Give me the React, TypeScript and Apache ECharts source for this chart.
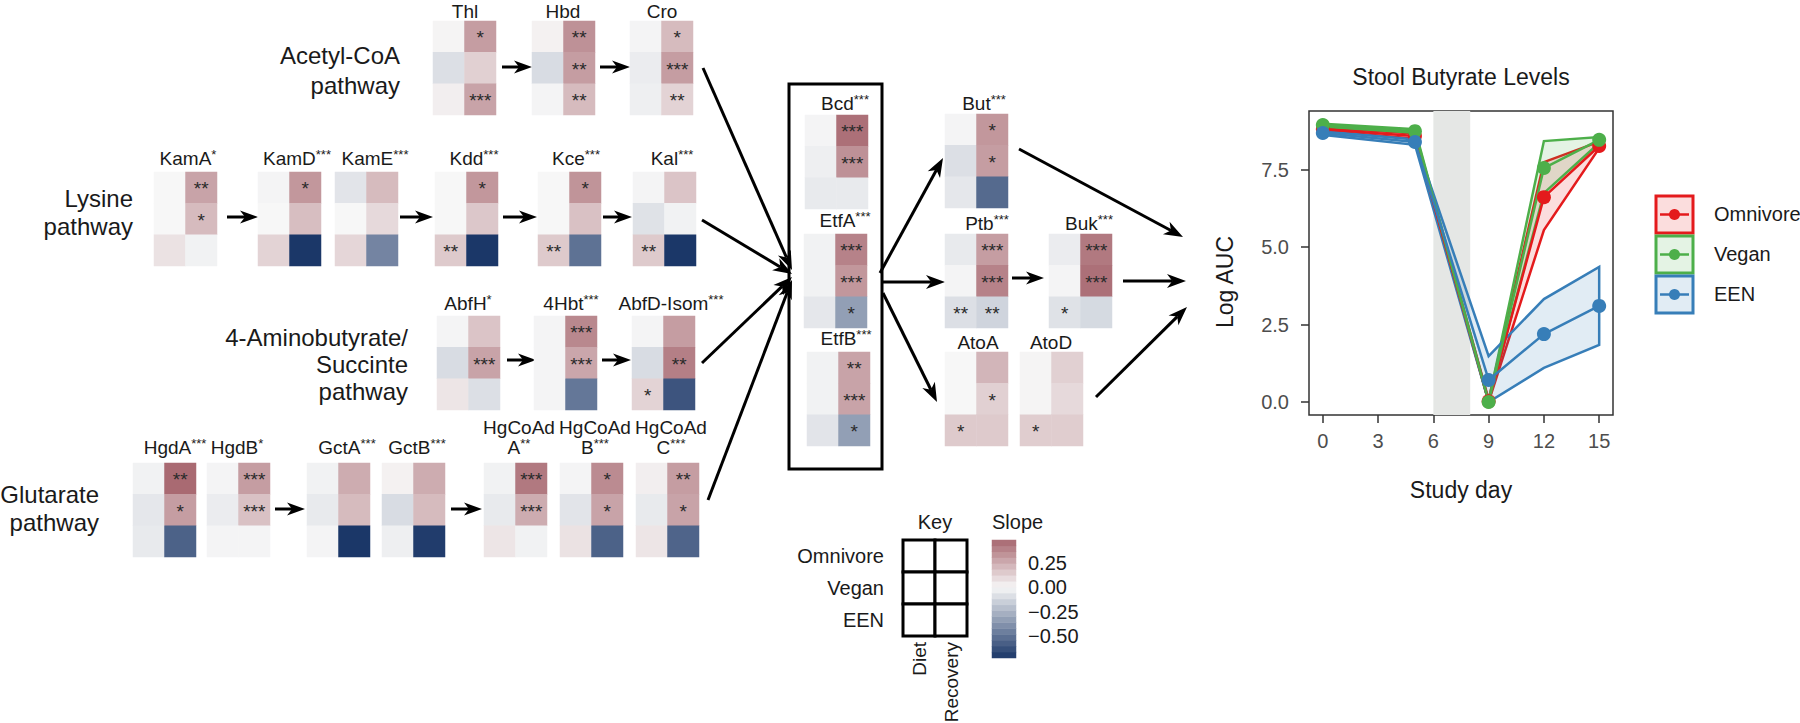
import React, { useEffect, useRef } from 'react';
import * as echarts from 'echarts';

const FONT = '"Liberation Sans", Arial, Helvetica, sans-serif';

// ---------- heatmap data ----------
const groups = ['Omnivore', 'Vegan', 'EEN'];
const phases = ['Diet', 'Recovery'];

const geneNames = ['Thl', 'Hbd', 'Cro', 'KamA', 'KamD', 'KamE', 'Kdd', 'Kce', 'Kal', 'AbfH', '4Hbt', 'AbfD-Isom',
  'HgdA', 'HgdB', 'GctA', 'GctB', 'HgCoAd\nA', 'HgCoAd\nB', 'HgCoAd\nC', 'Bcd', 'EtfA', 'EtfB', 'But', 'Ptb', 'Buk', 'AtoA', 'AtoD'];
const geneSig = ['', '', '', '*', '***', '***', '***', '***', '***', '*', '***', '***',
  '***', '*', '***', '***', '**', '***', '***', '***', '***', '***', '***', '***', '***', '', ''];

// [Omnivore, Vegan, EEN]
const dietSlope = [
  [0.01, -0.09, 0.03], [0.02, -0.1, -0.01], [-0.01, -0.04, -0.03],
  [0.0, 0.0, 0.07], [-0.01, 0.0, 0.12], [-0.07, 0.0, 0.11], [0.0, 0.0, 0.15], [0.0, 0.0, 0.15], [-0.01, -0.08, 0.15],
  [-0.01, -0.1, 0.06], [-0.01, -0.01, -0.01], [-0.01, -0.1, 0.12],
  [-0.02, -0.06, -0.05], [-0.01, -0.04, -0.01], [-0.02, -0.05, -0.01], [0.02, -0.1, -0.03], [-0.02, -0.05, 0.06], [-0.01, -0.07, 0.07], [0.03, -0.05, 0.06],
  [-0.01, -0.03, -0.05], [-0.02, -0.02, -0.06], [-0.02, -0.02, -0.07],
  [-0.01, -0.09, -0.06], [-0.05, -0.01, -0.09], [-0.04, -0.01, -0.08], [0.0, 0.0, 0.15], [0.01, 0.01, 0.14],
];
const recoverySlope = [
  [0.3, 0.13, 0.28], [0.34, 0.3, 0.2], [0.2, 0.3, 0.12],
  [0.28, 0.2, -0.02], [0.32, 0.19, -0.72], [0.2, 0.1, -0.43], [0.32, 0.16, -0.72], [0.33, 0.18, -0.5], [0.17, -0.02, -0.72],
  [0.17, 0.28, -0.09], [0.37, 0.27, -0.48], [0.3, 0.4, -0.61],
  [0.47, 0.3, -0.56], [0.3, 0.18, -0.01], [0.25, 0.2, -0.72], [0.25, 0.2, -0.7], [0.42, 0.25, -0.02], [0.36, 0.28, -0.56], [0.3, 0.28, -0.55],
  [0.45, 0.34, -0.05], [0.39, 0.32, -0.33], [0.28, 0.28, -0.33],
  [0.32, 0.3, -0.53], [0.3, 0.39, -0.13], [0.42, 0.45, -0.11], [0.22, 0.13, 0.15], [0.13, 0.1, 0.14],
];
const dietStars = [
  ['', '', ''], ['', '', ''], ['', '', ''],
  ['', '', ''], ['', '', ''], ['', '', ''], ['', '', '**'], ['', '', '**'], ['', '', '**'],
  ['', '', ''], ['', '', ''], ['', '', '*'],
  ['', '', ''], ['', '', ''], ['', '', ''], ['', '', ''], ['', '', ''], ['', '', ''], ['', '', ''],
  ['', '', ''], ['', '', ''], ['', '', ''],
  ['', '', ''], ['', '', '**'], ['', '', '*'], ['', '', '*'], ['', '', '*'],
];
const recoveryStars = [
  ['*', '', '***'], ['**', '**', '**'], ['*', '***', '**'],
  ['**', '*', ''], ['*', '', ''], ['', '', ''], ['*', '', ''], ['*', '', ''], ['', '', ''],
  ['', '***', ''], ['***', '***', ''], ['', '**', ''],
  ['**', '*', ''], ['***', '***', ''], ['', '', ''], ['', '', ''], ['***', '***', ''], ['*', '*', ''], ['**', '*', ''],
  ['***', '***', ''], ['***', '***', '*'], ['**', '***', '*'],
  ['*', '*', ''], ['***', '***', '**'], ['***', '***', ''], ['', '*', ''], ['', '', ''],
];

const colorbarSteps = [-0.69, -0.63, -0.57, -0.51, -0.45, -0.39, -0.33, -0.27, -0.21, -0.15, -0.09, -0.03,
  0.03, 0.09, 0.15, 0.21, 0.27, 0.33, 0.39, 0.45];
const colorbarTicks = [-0.5, -0.25, 0, 0.25];

// ---------- line chart data ----------
const studyDays = [0, 5, 9, 12, 15];
const dayTicks = [0, 3, 6, 9, 12, 15];
const aucTicks = [0, 2.5, 5, 7.5];
const omnivoreMean = [8.8, 8.58, 0.02, 6.61, 8.26];
const omnivoreLow = [8.75, 8.5, 0, 5.55, 8.19];
const omnivoreHigh = [8.85, 8.66, 0.08, 7.74, 8.4];
const veganMean = [8.94, 8.74, 0, 7.55, 8.46];
const veganLow = [8.89, 8.69, 0, 6.74, 8.36];
const veganHigh = [8.98, 8.8, 0.04, 8.42, 8.55];
const eenMean = [8.68, 8.39, 0.71, 2.19, 3.1];
const eenLow = [8.62, 8.3, 0, 1.1, 1.84];
const eenHigh = [8.74, 8.47, 1.48, 3.32, 4.36];

// ---------- layout ----------
const panelPos = [[433, 21], [532, 21], [630, 21], [154, 172], [258, 172], [335, 172], [435, 172], [538, 172], [633, 172],
  [437, 316], [534, 316], [632, 316], [133, 463], [207, 463], [307, 463], [382, 463], [484, 463], [560, 463], [636, 463],
  [805, 115], [804, 234], [807, 352], [945, 114], [945, 234], [1049, 234], [945, 352], [1020, 352]];
const labelPos = [[465, 11], [563, 11], [662, 11], [188, 158], [297, 158], [375, 158], [474, 158], [576, 158], [672, 158],
  [468, 303], [571, 303], [671, 303], [175, 447], [237, 447], [347, 447], [417, 447], [519, 437], [595, 437], [671, 437],
  [845, 103], [845, 220], [846, 338], [984, 103], [987, 223], [1089, 223], [978, 342], [1051, 342]];

const RED = '#E41A1C', GREEN = '#4DAF4A', BLUE = '#377EB8';

function arrow(x1: number, y1: number, x2: number, y2: number, lw = 3, hl = 18, hw = 6.5): any[] {
  const dx = x2 - x1, dy = y2 - y1, L = Math.hypot(dx, dy);
  const ux = dx / L, uy = dy / L, nx = -uy, ny = ux;
  const bx = x2 - ux * hl, by = y2 - uy * hl;
  const mx = x2 - ux * hl * 0.72, my = y2 - uy * hl * 0.72;
  return [
    { type: 'line', shape: { x1, y1, x2: mx, y2: my }, style: { stroke: '#000', lineWidth: lw } },
    { type: 'polygon', shape: { points: [[x2, y2], [bx + nx * hw, by + ny * hw], [mx, my], [bx - nx * hw, by - ny * hw]] }, style: { fill: '#000' } },
  ];
}

function txt(x: number, y: number, text: string, size: number, align = 'center', extra: any = {}, lineHeight?: number): any {
  const style: any = { text, fontSize: size, fontFamily: FONT, fill: '#1a1a1a', align, textAlign: align, verticalAlign: 'middle', textVerticalAlign: 'middle' };
  if (lineHeight) style.lineHeight = lineHeight;
  return { type: 'text', x, y, ...extra, style };
}

function geneLabel(i: number): any {
  const lines = geneNames[i].split('\n');
  const sup = geneSig[i] ? `{b|${geneSig[i]}}` : '';
  const text = lines.map((l, k) => `{a|${l}}${k === lines.length - 1 ? sup : ''}`).join('\n');
  return {
    type: 'text', x: labelPos[i][0], y: labelPos[i][1],
    style: {
      text, align: 'center', textAlign: 'center', verticalAlign: 'middle', textVerticalAlign: 'middle',
      rich: {
        a: { fontSize: 19, fontFamily: FONT, fill: '#1a1a1a', lineHeight: 20 },
        b: { fontSize: 13, fontFamily: FONT, fill: '#1a1a1a', verticalAlign: 'top' },
      },
    },
  };
}

function ribbon(low: number[], high: number[], color: string, fill: string, extra: any = {}): any {
  return {
    type: 'custom', xAxisIndex: 28, yAxisIndex: 30, silent: true,
    data: [[studyDays[0], low[0]]],
    renderItem: (_p: any, api: any) => {
      const pts: number[][] = [];
      studyDays.forEach((d, k) => pts.push(api.coord([d, high[k]])));
      for (let k = studyDays.length - 1; k >= 0; k--) pts.push(api.coord([studyDays[k], low[k]]));
      return { type: 'polygon', shape: { points: pts }, style: { fill, stroke: color, lineWidth: 2.5, lineJoin: 'miter' } };
    },
    ...extra,
  };
}

function meanLine(mean: number[], color: string, extra: any = {}): any {
  return {
    type: 'line', xAxisIndex: 28, yAxisIndex: 30, silent: true,
    data: studyDays.map((d, k) => [d, mean[k]]),
    symbol: 'circle', symbolSize: 14, showSymbol: true,
    lineStyle: { color, width: 2.5 }, itemStyle: { color },
    ...extra,
  };
}

export default function App() {
  const ref = useRef<HTMLDivElement>(null);
  useEffect(() => {
    if (!ref.current) return;
    const chart = echarts.init(ref.current, undefined, { renderer: 'svg' });
    const grids: any[] = [], xAxes: any[] = [], yAxes: any[] = [], series: any[] = [];
    geneNames.forEach((_g, i) => {
      grids.push({ left: panelPos[i][0], top: panelPos[i][1], width: 63, height: 94, show: false });
      xAxes.push({ type: 'category', gridIndex: i, data: phases, show: false });
      yAxes.push({ type: 'category', gridIndex: i, data: groups, inverse: true, show: false });
      const data: any[] = [];
      groups.forEach((_gr, r) => {
        data.push([0, r, dietSlope[i][r]]);
        data.push([1, r, recoverySlope[i][r]]);
      });
      series.push({
        type: 'heatmap', xAxisIndex: i, yAxisIndex: i, data, silent: true,
        emphasis: { disabled: true },
        label: {
          show: true, fontSize: 19, fontFamily: FONT, color: '#2a2a2a', offset: [0, 1],
          formatter: (p: any) => (p.value[0] === 0 ? dietStars[i][p.value[1]] : recoveryStars[i][p.value[1]]),
        },
      });
    });
    // colorbar (grid 27)
    grids.push({ left: 992, top: 540, width: 24, height: 118, show: false });
    xAxes.push({ type: 'category', gridIndex: 27, data: ['Slope'], show: false });
    yAxes.push({ type: 'category', gridIndex: 27, data: colorbarSteps.map(String), show: false });
    const fmt = (v: number) => (v < 0 ? '\u2212' : '') + Math.abs(v).toFixed(2);
    yAxes.push({
      type: 'value', gridIndex: 27, min: -0.72, max: 0.48, position: 'right',
      axisLine: { show: false }, splitLine: { show: false },
      axisTick: { show: true, inside: true, length: 5, customValues: colorbarTicks, lineStyle: { color: '#fff', width: 1.5 } },
      axisLabel: { show: true, customValues: colorbarTicks, formatter: fmt, fontSize: 20, fontFamily: FONT, color: '#1a1a1a', margin: 12 },
    });
    yAxes.push({
      type: 'value', gridIndex: 27, min: -0.72, max: 0.48, position: 'left',
      axisLine: { show: false }, splitLine: { show: false }, axisLabel: { show: false },
      axisTick: { show: true, inside: true, length: 5, customValues: colorbarTicks, lineStyle: { color: '#fff', width: 1.5 } },
    });
    series.push({
      type: 'heatmap', xAxisIndex: 27, yAxisIndex: 27, silent: true, emphasis: { disabled: true },
      data: colorbarSteps.map((v, k) => [0, k, v]),
    });
    const heatIdx = series.map((_s, k) => k);

    // line chart (grid 28)
    grids.push({ left: 1309, top: 111, width: 304, height: 304, show: true, borderColor: '#333', borderWidth: 1.5, backgroundColor: 'transparent' });
    xAxes.push({
      type: 'value', gridIndex: 28, min: -0.75, max: 15.75, position: 'bottom',
      axisLine: { show: false, onZero: false }, splitLine: { show: false },
      axisTick: { show: true, length: 8, customValues: dayTicks, lineStyle: { color: '#333', width: 1.5 } },
      axisLabel: { customValues: dayTicks, fontSize: 20, fontFamily: FONT, color: '#4d4d4d', margin: 16 },
    });
    yAxes.push({
      type: 'value', gridIndex: 28, min: -0.42, max: 9.39, position: 'left',
      axisLine: { show: false, onZero: false }, splitLine: { show: false },
      axisTick: { show: true, length: 8, customValues: aucTicks, lineStyle: { color: '#333', width: 1.5 } },
      axisLabel: { customValues: aucTicks, formatter: (v: number) => v.toFixed(1), fontSize: 20, fontFamily: FONT, color: '#4d4d4d', margin: 20 },
    });
    series.push(ribbon(omnivoreLow, omnivoreHigh, RED, 'rgba(228,26,28,0.15)', {
      markArea: { silent: true, itemStyle: { color: '#e5e7e5' }, data: [[{ xAxis: 6 }, { xAxis: 8 }]] },
    }));
    series.push(ribbon(veganLow, veganHigh, GREEN, 'rgba(77,175,74,0.15)'));
    series.push(ribbon(eenLow, eenHigh, BLUE, 'rgba(55,126,184,0.15)'));
    series.push(meanLine(omnivoreMean, RED));
    series.push(meanLine(veganMean, GREEN));
    series.push(meanLine(eenMean, BLUE));

    // ---------- graphics ----------
    const g: any[] = [];
    // pathway labels
    g.push(txt(400, 70, 'Acetyl-CoA\npathway', 24, 'right', {}, 30));
    g.push(txt(133, 212, 'Lysine\npathway', 24, 'right', {}, 28));
    g.push(txt(408, 364, '4-Aminobutyrate/\nSuccinte\npathway', 24, 'right', {}, 27));
    g.push(txt(99, 508, 'Glutarate\npathway', 24, 'right', {}, 28));
    geneNames.forEach((_n, i) => g.push(geneLabel(i)));

    // short arrows
    [[502, 67, 532, 67], [600, 67, 630, 67],
      [227, 217, 258, 217], [400, 217, 433, 217], [503, 217, 537, 217], [603, 217, 632, 217],
      [507, 360, 536, 360], [602, 360, 631, 360],
      [275, 509, 305, 509], [451, 509, 482, 509],
      [1012, 278, 1044, 278]].forEach((a) => g.push(...arrow(a[0], a[1], a[2], a[3], 3, 18, 6.5)));
    // converging arrows
    [[703, 68, 792, 270], [702, 220, 792, 274], [702, 363, 792, 277], [708, 500, 792, 280]].forEach((a) => g.push(...arrow(a[0], a[1], a[2], a[3], 3, 19, 7)));
    // diverging arrows
    [[880, 273, 943, 158], [883, 282, 945, 282], [883, 293, 937, 402]].forEach((a) => g.push(...arrow(a[0], a[1], a[2], a[3], 3, 19, 7)));
    // to Log AUC
    [[1019, 149, 1183, 237], [1123, 281, 1186, 281], [1096, 397, 1187, 307]].forEach((a) => g.push(...arrow(a[0], a[1], a[2], a[3], 3, 19, 7)));

    // central box
    g.push({ type: 'rect', shape: { x: 789, y: 84, width: 93, height: 385 }, style: { fill: 'none', stroke: '#000', lineWidth: 3 } });

    // key
    groups.forEach((_gr, r) => phases.forEach((_ph, c) => {
      g.push({ type: 'rect', shape: { x: 903 + c * 32, y: 540 + r * 32, width: 32, height: 32 }, style: { fill: '#fff', stroke: '#000', lineWidth: 3 } });
    }));
    groups.forEach((gr, r) => g.push(txt(884, 556 + r * 32, gr, 20, 'right')));
    phases.forEach((ph, c) => g.push(txt(919 + c * 32, 642, ph, 19, 'right', { rotation: Math.PI / 2 })));
    g.push(txt(935, 522, 'Key', 20, 'center'));
    g.push(txt(992, 522, 'Slope', 20, 'left'));

    // line chart texts
    g.push(txt(1461, 77, 'Stool Butyrate Levels', 23, 'center'));
    g.push(txt(1225, 282, 'Log AUC', 23, 'center', { rotation: Math.PI / 2 }));
    g.push(txt(1461, 490, 'Study day', 23, 'center'));

    // legend
    [[RED, 'rgba(228,26,28,0.15)'], [GREEN, 'rgba(77,175,74,0.15)'], [BLUE, 'rgba(55,126,184,0.15)']].forEach((c, k) => {
      const y = 196 + k * 40;
      g.push({ type: 'rect', shape: { x: 1656, y, width: 37, height: 37 }, style: { fill: c[1], stroke: c[0], lineWidth: 3 } });
      g.push({ type: 'line', shape: { x1: 1660, y1: y + 18.5, x2: 1689, y2: y + 18.5 }, style: { stroke: c[0], lineWidth: 2.5 } });
      g.push({ type: 'circle', shape: { cx: 1674.5, cy: y + 18.5, r: 5.5 }, style: { fill: c[0] } });
      g.push(txt(1714, y + 18, groups[k], 20, 'left'));
    });

    chart.setOption({
      animation: false,
      backgroundColor: '#fff',
      grid: grids, xAxis: xAxes, yAxis: yAxes,
      visualMap: {
        type: 'continuous', show: false, min: -0.72, max: 0.72, dimension: 2, seriesIndex: heatIdx,
        inRange: { color: ['#1b3768', '#f7f7f7', '#7f1f2b'] },
      },
      series,
      graphic: { elements: g },
    });
    return () => chart.dispose();
  }, []);
  return <div ref={ref} style={{ position: 'absolute', left: 0, top: 0, width: 1800, height: 723 }} />;
}
